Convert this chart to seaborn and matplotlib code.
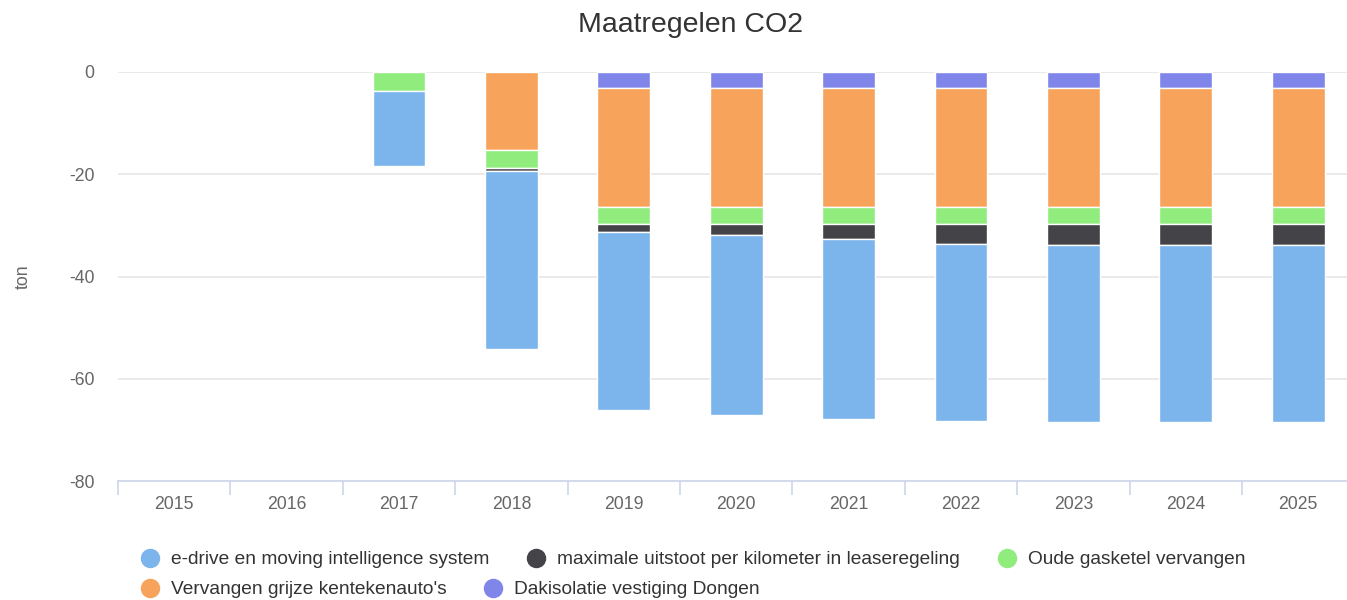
import numpy as np
import pandas as pd
import matplotlib
matplotlib.use("Agg")
import matplotlib.pyplot as plt
import seaborn as sns
from matplotlib.lines import Line2D

years = ["2015", "2016", "2017", "2018", "2019", "2020", "2021", "2022", "2023", "2024", "2025"]
series_names = [
    "e-drive en moving intelligence system",
    "maximale uitstoot per kilometer in leaseregeling",
    "Oude gasketel vervangen",
    "Vervangen grijze kentekenauto's",
    "Dakisolatie vestiging Dongen",
]
e_drive = [0, 0, -14.7, -34.8, -35.0, -35.3, -35.2, -34.6, -34.7, -34.7, -34.7]
maximale = [0, 0, 0, -0.6, -1.5, -2.1, -2.9, -3.9, -4.1, -4.1, -4.1]
gasketel = [0, 0, -3.7, -3.4, -3.2, -3.2, -3.2, -3.2, -3.2, -3.2, -3.2]
grijze = [0, 0, 0, -15.3, -23.4, -23.4, -23.4, -23.4, -23.4, -23.4, -23.4]
dakisolatie = [0, 0, 0, 0, -3.1, -3.1, -3.1, -3.1, -3.1, -3.1, -3.1]
colors = ["#7cb5ec", "#434348", "#90ed7d", "#f7a35c", "#8085e9"]

sns.set_theme(style="white")
plt.rcParams["font.family"] = ["Liberation Sans", "DejaVu Sans"]

fig = plt.figure(figsize=(13.47, 6.0), dpi=100)
W, H = 1347, 600
left, right, top, bottom = 118, 1354.4, 72, 481
ax = fig.add_axes([left / W, 1 - bottom / H, (right - left) / W, (bottom - top) / H])

# stacking: closest to zero is the last series
stack_order = [dakisolatie, grijze, gasketel, maximale, e_drive]
stack_colors = [colors[4], colors[3], colors[2], colors[1], colors[0]]
cum = np.zeros(len(years))
for vals, col in zip(stack_order, stack_colors):
    df = pd.DataFrame({"year": years, "value": vals})
    sns.barplot(data=df, x="year", y="value", order=years, color=col, bottom=cum,
                width=0.47, edgecolor="white", linewidth=1.0, ax=ax, errorbar=None,
                saturation=1.0, zorder=3)
    cum = cum + np.array(vals)

for p in ax.patches:
    if abs(p.get_height()) < 1e-9:
        p.set_visible(False)

ax.set_ylim(-80, 0)
ax.set_xlim(-0.5, len(years) - 0.5)
ax.set_yticks([0, -20, -40, -60, -80])
ax.set_yticklabels(["0", "-20", "-40", "-60", "-80"])
ax.yaxis.grid(True, color="#e6e6e6", linewidth=1.2, zorder=0)
ax.set_axisbelow(True)
for s in ["top", "right", "left"]:
    ax.spines[s].set_visible(False)
ax.spines["bottom"].set_color("#ccd6eb")
ax.spines["bottom"].set_linewidth(1.2)
ax.spines["bottom"].set_zorder(5)

ax.set_xticks(np.arange(len(years)))
ax.set_xticklabels(years)
ax.set_xticks(np.arange(-0.5, len(years), 1.0), minor=True)
ax.tick_params(axis="x", which="major", length=0, pad=11, labelsize=12.7, labelcolor="#666666")
ax.tick_params(axis="x", which="minor", length=10, width=1.2, color="#ccd6eb", bottom=True)
ax.tick_params(axis="y", length=0, pad=17, labelsize=12.7, labelcolor="#666666")
ax.set_xlabel("")
ax.set_ylabel("ton", fontsize=12.7, color="#666666")
ax.yaxis.label.set_va("center")
ax.yaxis.set_label_coords((23 - left) / (right - left), 0.5)

fig.text(691 / W, 1 - 25 / H, "Maatregelen CO2", ha="center", va="center", fontsize=20.5, color="#333333")

# legend
legend_items = [
    (0, 150, 558), (1, 536, 558), (2, 1007, 558),
    (3, 150, 588), (4, 493, 588),
]
for idx, cx, cy in legend_items:
    fig.add_artist(Line2D([cx / W], [1 - cy / H], marker="o", markersize=13,
                          color=colors[idx], linestyle="none", transform=fig.transFigure))
    fig.text((cx + 21) / W, 1 - (cy + 2) / H, series_names[idx], ha="left", va="center",
             fontsize=13.75, color="#333333")

fig.savefig("out.png", dpi=100)
